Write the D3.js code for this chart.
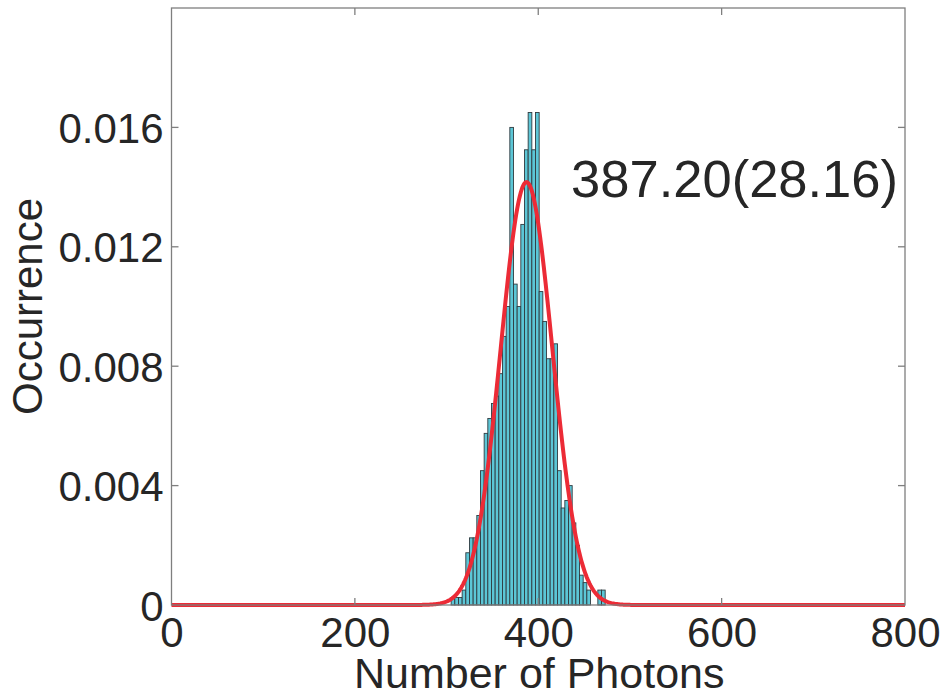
<!DOCTYPE html>
<html>
<head>
<meta charset="utf-8">
<script src="https://cdn.jsdelivr.net/npm/d3@7"></script>
<style>
  html, body { margin: 0; padding: 0; background: #ffffff; }
  svg { display: block; }
</style>
</head>
<body>
<svg id="chart" width="943" height="695"></svg>
<script>
// ---- data ----
const binStarts = [305, 309, 313, 317, 321, 325, 329, 333, 337, 341, 345, 349, 353, 357,
                   361, 365, 369, 373, 377, 381, 385, 389, 393, 397, 401, 405, 409, 413,
                   417, 421, 425, 429, 433, 437, 441, 445, 449, 453, 457, 461, 465, 469];
const binWidth = 4;
const occurrence = [0.00025, 0.00025, 0.00025, 0.0005, 0.00175, 0.00225, 0.00225, 0.003,
                    0.0045, 0.00575, 0.00625, 0.00675, 0.007, 0.00775, 0.009, 0.01,
                    0.016, 0.01075, 0.01, 0.01275, 0.01525, 0.0165, 0.01525, 0.0165,
                    0.0105, 0.0095, 0.00825, 0.00825, 0.00875, 0.0045, 0.00325, 0.0035,
                    0.004, 0.00275, 0.002, 0.001, 0.00075, 0.0005, 0, 0, 0.0005, 0.0005];
const fitMean = 387.20;
const fitSigma = 28.16;
const xTicks = [0, 200, 400, 600, 800];
const yTicks = [0, 0.004, 0.008, 0.012, 0.016];
const yTickLabels = ["0", "0.004", "0.008", "0.012", "0.016"];
const annotation = "387.20(28.16)";
const xLabel = "Number of Photons";
const yLabel = "Occurrence";

// ---- layout ----
const svg = d3.select("#chart");
const pLeft = 171.5, pRight = 905, pTop = 8, pBottom = 605;
const x = d3.scaleLinear().domain([0, 800]).range([pLeft, pRight]);
const y = d3.scaleLinear().domain([0, 0.02]).range([pBottom, pTop]);
const font = "'Liberation Sans', Arial, Helvetica, sans-serif";
const textColor = "#262626";

// bars
svg.append("g").selectAll("rect")
  .data(binStarts.map((s, i) => ({ s, v: occurrence[i] })).filter(d => d.v > 0))
  .join("rect")
  .attr("x", d => x(d.s))
  .attr("width", d => x(d.s + binWidth) - x(d.s))
  .attr("y", d => y(d.v))
  .attr("height", d => y(0) - y(d.v))
  .attr("fill", "#5cc6d6")
  .attr("stroke", "#2f3b40")
  .attr("stroke-width", 0.9);

// fitted gaussian curve (from displayed fit parameters)
const xs = d3.range(0, 800.5, 1);
const pdf = v => Math.exp(-0.5 * Math.pow((v - fitMean) / fitSigma, 2)) / (fitSigma * Math.sqrt(2 * Math.PI));
svg.append("path")
  .datum(xs)
  .attr("fill", "none")
  .attr("stroke", "#ec2b36")
  .attr("stroke-width", 4)
  .attr("stroke-linejoin", "round")
  .attr("d", d3.line().x(d => x(d)).y(d => y(pdf(d))));

// frame
svg.append("rect")
  .attr("x", pLeft).attr("y", pTop)
  .attr("width", pRight - pLeft).attr("height", pBottom - pTop)
  .attr("fill", "none")
  .attr("stroke", "#7f7f7f")
  .attr("stroke-width", 1.3);

// axes (labels via d3 axes, ticks drawn inward MATLAB-style)
const tickLen = 7;
const axisBottom = svg.append("g").attr("transform", `translate(0,${pBottom})`)
  .call(d3.axisBottom(x).tickValues(xTicks).tickSize(0).tickPadding(12).tickFormat(d3.format("d")));
const axisLeft = svg.append("g").attr("transform", `translate(${pLeft},0)`)
  .call(d3.axisLeft(y).tickValues(yTicks).tickSize(0).tickPadding(8)
    .tickFormat((d, i) => yTickLabels[i]));
[axisBottom, axisLeft].forEach(g => {
  g.select(".domain").remove();
  g.selectAll("text")
    .attr("font-family", font)
    .attr("font-size", 42)
    .attr("fill", textColor);
});
axisBottom.selectAll("text").attr("dy", "0.71em");
axisLeft.selectAll("text").attr("dy", "0.36em");

const tk = svg.append("g").attr("stroke", "#7f7f7f").attr("stroke-width", 1.3);
xTicks.slice(1, -1).forEach(v => {
  tk.append("line").attr("x1", x(v)).attr("x2", x(v)).attr("y1", pBottom).attr("y2", pBottom - tickLen);
  tk.append("line").attr("x1", x(v)).attr("x2", x(v)).attr("y1", pTop).attr("y2", pTop + tickLen);
});
yTicks.slice(1).forEach(v => {
  tk.append("line").attr("x1", pLeft).attr("x2", pLeft + tickLen).attr("y1", y(v)).attr("y2", y(v));
  tk.append("line").attr("x1", pRight).attr("x2", pRight - tickLen).attr("y1", y(v)).attr("y2", y(v));
});

// axis labels
svg.append("text")
  .attr("x", (pLeft + pRight) / 2 + 1).attr("y", 688)
  .attr("text-anchor", "middle")
  .attr("font-family", font).attr("font-size", 43).attr("fill", textColor)
  .text(xLabel);
svg.append("text")
  .attr("transform", `translate(42,${(pTop + pBottom) / 2}) rotate(-90)`)
  .attr("text-anchor", "middle")
  .attr("font-family", font).attr("font-size", 42).attr("fill", textColor)
  .text(yLabel);

// annotation
svg.append("text")
  .attr("x", 898).attr("y", 197)
  .attr("text-anchor", "end")
  .attr("font-family", font).attr("font-size", 52.5).attr("fill", textColor)
  .text(annotation);
</script>
</body>
</html>
